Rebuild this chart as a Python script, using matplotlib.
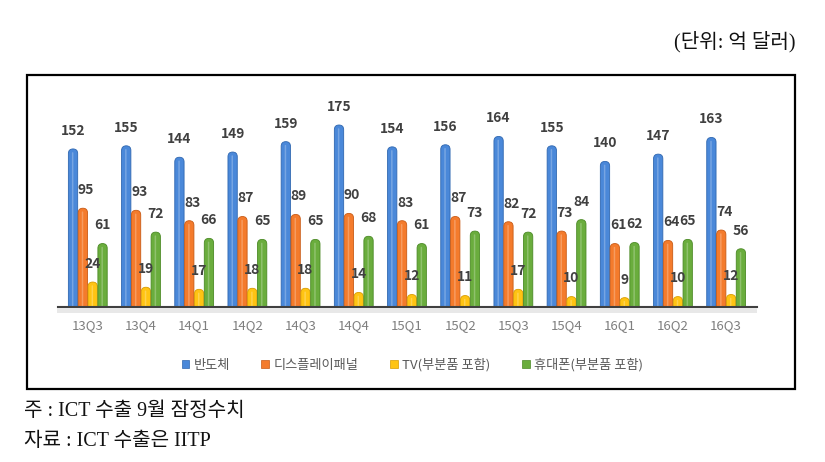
import numpy as np
import matplotlib as mpl
mpl.use('agg')
import matplotlib.pyplot as plt
from matplotlib.patches import FancyBboxPatch, Rectangle

plt.rcParams['font.family'] = ['Noto Sans CJK KR', 'DejaVu Sans']

quarters = ['13Q3', '13Q4', '14Q1', '14Q2', '14Q3', '14Q4', '15Q1', '15Q2',
            '15Q3', '15Q4', '16Q1', '16Q2', '16Q3']
semi = [152, 155, 144, 149, 159, 175, 154, 156, 164, 155, 140, 147, 163]
display = [95, 93, 83, 87, 89, 90, 83, 87, 82, 73, 61, 64, 74]
tv = [24, 19, 17, 18, 18, 14, 12, 11, 17, 10, 9, 10, 12]
phone = [61, 72, 66, 65, 65, 68, 61, 73, 72, 84, 62, 65, 56]
names = ['반도체', '디스플레이패널', 'TV(부분품 포함)', '휴대폰(부분품 포함)']
colors = ['#4A88D9', '#F47B2C', '#FFC413', '#6AAD3D']
edges = ['#2F67B0', '#C85A14', '#D89C00', '#4B8A25']

W, H = 825, 462
fig = plt.figure(figsize=(W / 100, H / 100), dpi=100)

# outer frame
fig.patches.append(Rectangle((27 / W, 1 - 389 / H), (795 - 27) / W, (389 - 75) / H,
                             transform=fig.transFigure, fill=False,
                             edgecolor='black', linewidth=1.6))

ax = fig.add_axes([58 / W, 1 - 307 / H, (757 - 58) / W, 208 / H])
ax.set_xlim(-0.56, 12.58)
ax.set_ylim(0, 200)

x = np.arange(len(quarters))
step = 0.185
width = 0.175
# aspect to keep caps round: y data per pixel / x data per pixel
xpp = (12.58 + 0.56) / (757 - 58)
ypp = 200 / 208
aspect = ypp / xpp
series = [semi, display, tv, phone]
for k, vals in enumerate(series):
    off = (k - 1.5) * step
    for xi, v in zip(x, vals):
        r = width / 2
        p = FancyBboxPatch((xi + off - width / 2, -10), width, v + 10,
                           boxstyle='round,pad=0,rounding_size=%f' % r,
                           mutation_aspect=aspect,
                           facecolor=colors[k], edgecolor=edges[k], linewidth=0.6)
        ax.add_patch(p)
        # highlight stripe for cylinder look
        hl = FancyBboxPatch((xi + off - width * 0.12, -10), width * 0.16, v + 10 - width * 0.35 * aspect,
                            boxstyle='round,pad=0,rounding_size=%f' % (width * 0.08),
                            mutation_aspect=aspect,
                            facecolor='white', edgecolor='none', alpha=0.25)
        ax.add_patch(hl)
        dx = 0.06 if k == 1 else 0
        ax.annotate(str(v), (xi + off + dx, v), xytext=(0, 8), textcoords='offset points',
                    ha='center', va='bottom', fontsize=10, fontweight='bold',
                    color='#404040', annotation_clip=False)

for s in ['top', 'right', 'left']:
    ax.spines[s].set_visible(False)
ax.spines['bottom'].set_color('#404040')
ax.spines['bottom'].set_linewidth(1.5)
ax.set_yticks([])
ax.set_xticks(x)
ax.set_xticklabels(quarters, fontsize=9.5, color='#7F7F7F')
ax.tick_params(axis='x', length=0, pad=9)

# floor shadow under baseline
fig.patches.append(Rectangle((57 / W, 1 - 313 / H), (757 - 57) / W, 5 / H,
                             transform=fig.transFigure, facecolor='#E8E8E8',
                             edgecolor='none', zorder=0))

handles = [Rectangle((0, 0), 1, 1, facecolor=c, edgecolor=e, linewidth=0.5)
           for c, e in zip(colors, edges)]
fig.legend(handles, names, loc='center', bbox_to_anchor=(412 / W, 1 - 365 / H),
           ncol=4, frameon=False, fontsize=9.5, labelcolor='#595959',
           handlelength=0.6, handleheight=0.6, handletextpad=0.3, columnspacing=2.4)

serif = ['Liberation Serif', 'Noto Sans CJK KR']
fig.text(796 / W, 1 - 42 / H, '(단위: 억 달러)', ha='right', va='center',
         fontsize=14.5, family=serif, color='#111111')
fig.text(24 / W, 1 - 411 / H, '주 : ICT 수출 9월 잠정수치', ha='left', va='center',
         fontsize=14.5, family=serif, color='#111111')
fig.text(24 / W, 1 - 441 / H, '자료 : ICT 수출은 IITP', ha='left', va='center',
         fontsize=14.5, family=serif, color='#111111')

fig.savefig('out.png', dpi=100)
